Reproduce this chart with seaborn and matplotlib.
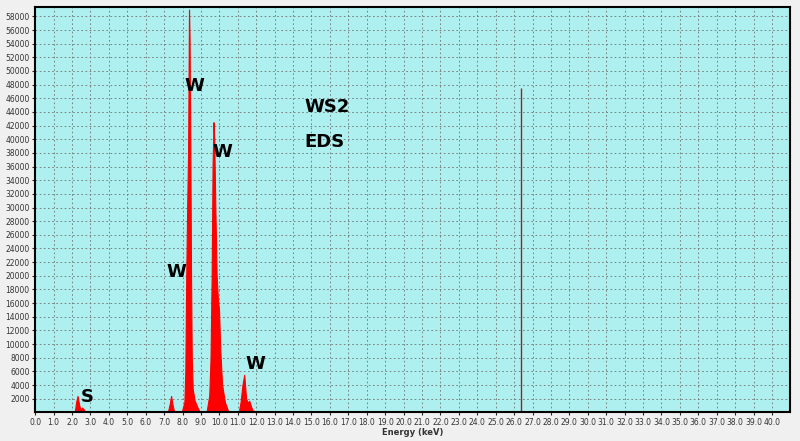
import numpy as np
import matplotlib
matplotlib.use("Agg")
import matplotlib.pyplot as plt
import seaborn as sns

# spectrum outline (keV, counts)
energy = [0.0, 2.15, 2.22, 2.3, 2.38, 2.45, 2.55, 2.62, 2.7, 2.8, 7.2, 7.3, 7.38, 7.45, 7.55,
          7.95, 8.1, 8.15, 8.2, 8.25, 8.3, 8.35, 8.38, 8.42, 8.46, 8.5, 8.55, 8.65, 8.8, 8.95,
          9.3, 9.45, 9.52, 9.58, 9.63, 9.68, 9.72, 9.78, 9.85, 9.92, 9.98, 10.05, 10.15, 10.3, 10.5,
          11.05, 11.15, 11.25, 11.35, 11.45, 11.55, 11.62, 11.7, 11.8, 12.1, 41.0]
counts = [0, 0, 1500, 2400, 1200, 400, 700, 500, 150, 0, 0, 1200, 2400, 1200, 0,
          0, 1500, 6000, 20000, 30000, 38000, 59000, 55000, 40000, 20000, 8000, 3500, 1800, 800, 0,
          0, 2500, 8000, 20000, 36000, 42500, 40000, 30000, 20000, 16500, 15000, 9000, 4000, 1500, 0,
          0, 1500, 4000, 5500, 2000, 1400, 1700, 1000, 300, 0, 0]
line_e = 26.4
line_top = 47500
peak_labels = [("W", 8.1, 46500), ("W", 9.65, 36800), ("W", 7.15, 19300), ("W", 11.4, 5800), ("S", 2.5, 1000)]
x_ticks = np.arange(0, 41, 1.0)
y_ticks = np.arange(2000, 60000, 2000)

sns.set_style("ticks")
fig = plt.figure(figsize=(8, 4.41), dpi=100, facecolor="#f0f0f0")
ax = fig.add_axes([0.044, 0.065, 0.944, 0.918])
ax.set_facecolor("#aef0f0")

ax.fill_between(energy, counts, color="#ff0000", lw=0.8, edgecolor="#ff0000")
ax.vlines(line_e, 0, line_top, color="#a02020", lw=1)

for txt, x, y in peak_labels:
    ax.text(x, y, txt, fontsize=13, fontweight="bold", color="black", ha="left", va="bottom")
ax.text(14.6, 44000, "WS2", fontsize=13, fontweight="bold", color="black")
ax.text(14.6, 38800, "EDS", fontsize=13, fontweight="bold", color="black")

ax.set_xlim(0, 41.0)
ax.set_ylim(0, 59300)
ax.set_xticks(x_ticks)
ax.set_xticklabels([f"{v:.1f}" for v in x_ticks], fontsize=5.5, color="#333333")
ax.set_yticks(y_ticks)
ax.set_yticklabels([f"{v}" for v in y_ticks], fontsize=5.5, color="#333333")
ax.tick_params(length=2, pad=2)
ax.grid(True, color="#707070", ls=(0, (2, 3)), lw=0.6)
ax.set_axisbelow(True)
ax.set_xlabel("Energy (keV)", fontsize=6, fontweight="bold", labelpad=1, color="#333333")
for s in ax.spines.values():
    s.set_linewidth(1.5)
    s.set_color("black")

fig.savefig("out.png", dpi=100, facecolor=fig.get_facecolor())
